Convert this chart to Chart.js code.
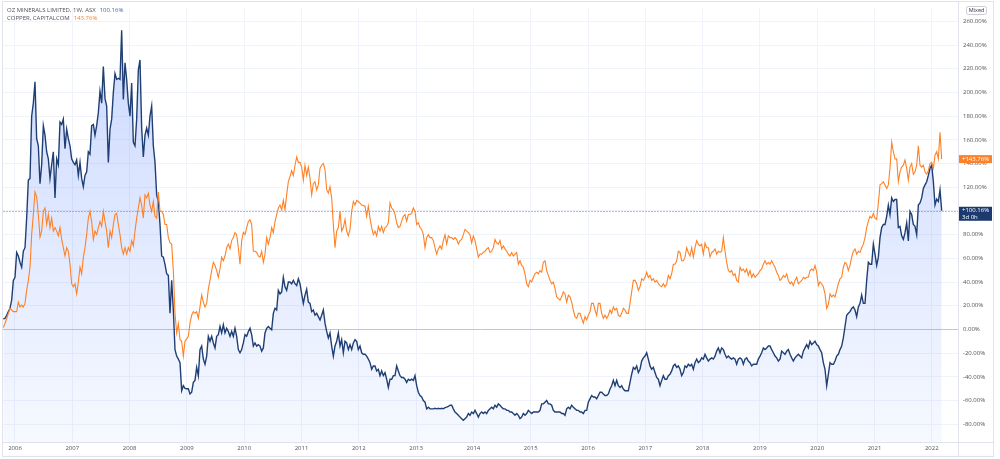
<!DOCTYPE html>
<html><head><meta charset="utf-8">
<script src="https://cdn.jsdelivr.net/npm/chart.js@4/dist/chart.umd.min.js"></script>
<style>html,body{margin:0;padding:0;background:#fff;}canvas{display:block}</style>
</head><body>
<canvas id="c" width="1000" height="459"></canvas>
<script>
// Percent change since start, weekly-ish samples
const ozName = 'OZ MINERALS LIMITED, 1W, ASX';
const cuName = 'COPPER, CAPITALCOM';
const firstDate = 2005.7964;   // decimal year of the first sample
const sampleStep = 0.029087;   // years between samples (~1.5 weeks)

const ozValues = [
 9, 9.4, 12, 15, 17.8, 24.7, 41.4, 44, 65, 62, 56.7, 52.5, 66, 69, 94, 126, 127.5, 180, 191, 209,
 161, 155, 123, 139, 172, 164, 150, 144, 127.5, 139, 150, 111, 144, 139, 175, 173, 177.5, 152.5, 169, 161,
 155, 144, 141, 139, 143, 130, 141, 127.5, 120.5, 130, 133, 150, 148, 172, 173, 164, 172, 183, 201, 191,
 222, 195, 188.6, 141, 169, 177.5, 200, 216, 211, 212, 211, 252.5, 194, 225, 211, 191, 180, 208, 158, 155,
 177.5, 219, 227.5, 170, 145.5, 164, 170, 164, 180, 188.6, 155, 141, 113.6, 108, 88.6, 62, 61, 55, 47, 45.6,
 13.6, 41.4, 16.4, -17, -22.5, -25, -28, -51.7, -47.5,
 -49.7, -50, -50, -54.4, -53, -44.7, -43, -32, -39, -17, -14, -25, -29.4, -22.5, -5.8, -10, -5.8, -11.4, -15.6, -5.8,
 -4.4, 2.5, -3, 3.9, -3, 1, -1.7, -5.8, -1.7, -5.8, 1, -5.8, -17, -19.7, -17, -11.4, -4.4, -5.8, -1.7, 1,
 -4.4, -14, -11.4, -14, -12.8, -14, -18.3, -15.6, -3, 1, 2.5, 1, -0.3, 13.6, 17.8, 16.4, 33, 30, 31.7, 44,
 36, 33, 40, 40, 38.6, 41.4, 38.6, 37, 42.8, 38.6, 30, 22, 29, 34, 23, 22, 15, 16.4, 12, 13.6,
 10.8, 8, 12, 16.4, 5.3, -1.7, -7.2, -3, -14, -22.5, -14, -10, -3, -14, -8.6, -19.7, -10, -11.4, -17, -12.8,
 -17, -11.4, -8.6, -10, -17, -14, -19.7, -21, -21, -22.5, -25, -28, -33.6, -30.8,
 -30.8, -35, -33.6, -39, -35, -39, -36.4, -42, -49, -42, -42, -39, -39, -30.8, -35, -39, -40.5, -40.5, -42, -44.7,
 -42, -43, -42, -43, -39, -47.5, -53, -55.8, -57, -60, -61.4, -67, -65.6, -67, -67, -67, -66.5, -67, -66.5, -67,
 -66.5, -67, -66, -65.6, -65, -64, -64, -67, -69.7, -71, -72.5, -74, -75.3, -76.7, -75.3, -74, -71, -72.5, -69.7, -71,
 -68.3, -71, -74, -71, -69.7, -71, -69.7, -71, -68.3, -67, -65.6, -67, -64, -65.6, -62.8, -64, -65.6, -67, -67, -68.3,
 -68.3, -69.7, -69.7, -71, -72.5, -71, -72.5, -75.3, -74, -71, -72.5, -71, -68.3, -69.7, -71, -69.7, -69.7, -69.7, -69.7, -68.3,
 -62.8, -62.8, -61.4, -60, -62.8, -62.8, -64, -68.3, -69.7, -69.7, -69.7, -69.7, -71, -71,
 -72.5, -67, -65.6, -67, -64, -65.6, -67, -68.3, -68.3, -69.7, -69.7, -71, -68.3, -68.3, -61.4, -58.6, -55.8, -57, -57, -58.6,
 -55.8, -53, -53, -54.4, -55.8, -55.8, -54.4, -50.3, -47.5, -43, -47.5, -43, -47.5, -49, -47.5, -50.3, -51.7, -51.7, -51.7, -44.7,
 -37.8, -32, -33.6, -30.8, -36.4, -33.6, -26.7, -24, -22.5, -19.7, -25, -30.8, -33.6, -32, -36.4, -40.5, -42, -47.5, -43, -39,
 -42, -42, -39, -37.8, -35, -30.8, -29.4, -32, -30.8, -33.6, -39, -36.4, -30.8, -32, -29.4, -30.8, -29.4, -33.6, -28, -25,
 -28, -26.7, -24, -25, -21, -24, -26.7, -25, -24, -25, -22.5, -18.3, -15.6, -19.7, -15.6, -17, -21, -24, -22.5, -24,
 -25, -24, -25, -29.4, -25, -24, -25, -29.4, -25, -24, -26.7, -28, -30.8, -29.4,
 -29.4, -29.4, -25, -22.5, -19.7, -15.6, -17, -15.6, -14, -14, -17, -19.7, -22.5, -24, -26.7, -25, -18.3, -19.7, -21, -18.3,
 -17, -21, -24, -26.7, -24, -22.5, -21, -22.5, -24, -18.3, -15.6, -12.8, -15.6, -10, -12.8, -11.4, -10, -12.8, -14, -17,
 -19.7, -28, -33.6, -47.5, -38, -28, -29.4, -29.4, -26.7, -22.5, -21, -17, -14, -7.2, 2.5, 12, 13.6, 15, 17.8, 19,
 16.4, 10.8, 19, 22, 29, 22, 22, 41.4, 56.7, 55, 55, 72, 63.6, 54, 61, 77.5, 86, 88.6, 88.6, 95.5,
 105, 97, 111, 108, 109.7, 109.7, 86, 87, 79, 76, 81.7, 90, 74.7, 99.7, 97, 88.6, 87, 80, 105, 106.7,
 111, 119, 122, 124.7, 130, 136, 138.6, 125, 105, 110, 108, 117.8, 100.16
];

const cuValues = [
 1.5, 5, 9, 13.6, 17.8, 16.4, 15, 15, 15, 23, 19, 20.6, 19, 22, 33, 41.4, 52.5, 80, 97, 116,
 112, 97, 78, 83, 99.7, 102.5, 88.6, 97, 86, 94, 83, 86, 83, 79, 86, 76, 69, 62, 69, 66,
 55, 38.6, 36, 38.6, 30, 40, 52.5, 47, 61, 69, 80, 94, 99.7, 91, 76, 83, 80, 86, 91, 87,
 99.7, 91, 83, 69, 83, 77.5, 88.6, 97, 98, 88.6, 80, 69, 63.6, 69, 63.6, 69, 66, 75, 70.5, 83,
 94, 102.5, 111, 105, 94, 113.6, 111, 115, 105, 99.7, 108, 95.5, 94, 116, 99.7, 99.7, 97, 88.6, 88.6, 77.5,
 73, 72, 49.7, 13.6, -3, 5, -8.6, -10, -22.5,
 -10, -8, -5.8, 5.3, 12, 15, 13.6, 15, 9.4, 19, 29, 23, 19, 22, 34, 41.4, 49.7, 56.7, 54, 49.7,
 44, 51, 61, 58, 62, 69, 72, 68, 75, 77.5, 81.7, 80, 69, 55, 75, 82, 80, 86, 91, 92.5,
 88.6, 66, 66, 65, 62, 61, 66, 56.7, 63.6, 77.5, 72, 77.5, 86, 81.7, 91, 97, 102.5, 105, 101, 109,
 101, 113.6, 124.7, 129, 134, 130, 138.6, 145.5, 141, 141, 137, 126, 138.6, 130, 137, 127.5, 113.6, 123, 124.7, 117.8,
 122, 136, 138.6, 140, 135, 118, 115, 120.5, 111, 88.6, 69, 83, 86, 99.7, 83, 86, 92.8, 83, 79, 84.4,
 99.7, 108, 105, 109, 108, 106.7, 105, 104.5, 104, 95.5, 104, 94, 86, 80,
 83, 79, 87, 83, 87, 81.7, 86, 87, 90, 106.7, 102.5, 101, 97, 90, 86, 87, 91.4, 95.5, 97, 91.4,
 97, 97, 98, 102.5, 99.7, 88.6, 90, 86, 84.4, 80, 69, 77.5, 80, 77.5, 77.5, 75, 69, 63.6, 68, 70.5,
 68, 75, 80, 72, 79, 77.5, 77.5, 76, 77.5, 76, 72, 75, 76, 80, 84.4, 83, 81.7, 80, 73, 79,
 75, 68, 61, 63.6, 63.6, 65, 66, 68, 69, 65, 66, 69, 76, 73, 72, 75, 68, 70.5, 68, 66,
 63.6, 62, 65, 62, 63.6, 65, 55, 58, 54, 52.5, 47, 38.6, 36, 41.4, 40, 44, 47, 48.3, 47, 49.7,
 48.3, 56.7, 58, 49.7, 45.6, 41.4, 38.6, 40, 34.4, 27.5, 26, 24.7, 27.5, 31.7,
 30, 23, 29, 27.5, 23, 16.4, 10.8, 9.4, 13.6, 13.6, 9.4, 5.3, 10.8, 8, 12, 15, 22, 22, 16.4, 12,
 22, 22, 13.6, 9.4, 12, 9.4, 12, 16.4, 13.6, 19, 16.4, 17.8, 12, 10.8, 13.6, 17.8, 16.4, 13.6, 13.6, 22,
 31.7, 41.4, 41.4, 38.6, 33, 36, 42.8, 41.4, 44, 48.3, 44, 45.6, 41.4, 42.8, 40, 41.4, 38.6, 37, 36, 38.6,
 36, 38.6, 45.6, 42.8, 47, 55, 55, 58, 66, 65, 58, 58, 61, 69, 65, 62, 69, 61, 69, 75,
 72, 70.5, 72, 63.6, 73, 69, 69, 61, 65, 66, 68, 63.6, 66, 65, 66, 77.5, 66, 56.7, 49.7, 48.3,
 49.7, 45.6, 47, 41.4, 40, 52.5, 49.7, 51, 48.3, 51, 45.6, 49.7, 44, 47,
 44, 45.6, 47, 49.7, 51, 55, 58, 55, 56.7, 55, 58, 55, 52.5, 48.3, 45.6, 41.4, 42.8, 45.6, 44, 47,
 41.4, 38.6, 40, 37, 41.4, 44, 38.6, 40, 41.4, 44, 42.8, 44, 44, 49.7, 51, 49.7, 54, 48.3, 37, 40,
 38.6, 36, 30, 17.8, 21, 30, 27.5, 29, 27.5, 33, 38.6, 42.8, 44, 52.5, 56.7, 55, 49.7, 54, 61, 66,
 68, 63.6, 66, 65, 69, 72, 77.5, 86, 91.4, 95.5, 94, 98, 94, 92.8, 106.7, 122, 123, 124.7, 122, 119,
 122, 136, 158, 150, 144, 144, 124.7, 133, 137, 138.6, 143, 136, 126, 137, 140, 131, 133, 138.6, 155, 138.6,
 137, 138.6, 133, 131, 134, 140, 141, 136, 147, 150, 144, 166.4, 143.76
];

const yearTicks = [2006,2007,2008,2009,2010,2011,2012,2013,2014,2015,2016,2017,2018,2019,2020,2021,2022];
const pctTicks = [-80,-60,-40,-20,0,20,40,60,80,100,120,140,160,180,200,220,240,260];

const n = Math.min(ozValues.length, cuValues.length);
const dates = [];
for (let i = 0; i < n; i++) dates.push(firstDate + i * sampleStep);
const ozData = dates.map((d, i) => ({x: d, y: ozValues[i]}));
const cuData = dates.map((d, i) => ({x: d, y: cuValues[i]}));
const ozLast = ozValues[n - 1];
const cuLast = cuValues[n - 1];

const FONT = '"Open Sans", "Noto Sans", sans-serif';
const NAVY = '#1f3f74';
const ORANGE = '#ff8126';
const FRAME = '#e0e3eb';
const GRID = '#f0f3fa';
const TXT = '#50535e';

const overlay = {
  id: 'overlay',
  beforeDatasetsDraw(chart) {
    const {ctx, chartArea: a, scales: {y}} = chart;
    const yy = Math.round(y.getPixelForValue(ozLast)) + 0.5;
    ctx.save();
    ctx.strokeStyle = 'rgba(90,110,160,0.45)';
    ctx.lineWidth = 1;
    ctx.setLineDash([2, 1]);
    ctx.beginPath(); ctx.moveTo(a.left, yy); ctx.lineTo(a.right, yy); ctx.stroke();
    ctx.restore();
  },
  afterDraw(chart) {
    const {ctx, chartArea: a, scales: {y}} = chart;
    ctx.save();
    // frame and separators
    ctx.strokeStyle = FRAME; ctx.lineWidth = 1;
    ctx.strokeRect(2.5, 1.5, 991, 455);
    ctx.beginPath();
    ctx.moveTo(a.right + 0.5, 1.5); ctx.lineTo(a.right + 0.5, 456.5);
    ctx.moveTo(2.5, a.bottom + 0.5); ctx.lineTo(993.5, a.bottom + 0.5);
    ctx.stroke();

    // legend
    ctx.font = '6px ' + FONT;
    ctx.textBaseline = 'middle';
    ctx.textAlign = 'left';
    ctx.fillStyle = TXT;
    ctx.fillText(ozName, 7, 10);
    let w = ctx.measureText(ozName).width;
    ctx.fillStyle = '#3f68b0';
    ctx.fillText(ozLast.toFixed(2) + '%', 7 + w + 4, 10);
    ctx.fillStyle = TXT;
    ctx.fillText(cuName, 7, 18);
    w = ctx.measureText(cuName).width;
    ctx.fillStyle = ORANGE;
    ctx.fillText(cuLast.toFixed(2) + '%', 7 + w + 4, 18);

    // price labels on the axis
    const bx = a.right + 1, bw = 33;
    const cy = y.getPixelForValue(cuLast);
    ctx.fillStyle = ORANGE;
    ctx.fillRect(bx, cy - 4, bw, 8);
    ctx.fillStyle = '#fff';
    ctx.font = '6px ' + FONT;
    ctx.fillText('+' + cuLast.toFixed(2) + '%', bx + 3, cy);
    const oy = y.getPixelForValue(ozLast);
    ctx.fillStyle = '#1c3a6e';
    ctx.fillRect(bx, oy - 4, bw, 14);
    ctx.fillStyle = '#fff';
    ctx.fillText('+' + ozLast.toFixed(2) + '%', bx + 3, oy);
    ctx.fillText('3d 0h', bx + 3, oy + 6.5);

    // "Mixed" badge
    ctx.fillStyle = '#fff';
    ctx.strokeStyle = '#c9ccd4';
    ctx.beginPath();
    if (ctx.roundRect) ctx.roundRect(966.5, 6.5, 20, 8, 2); else ctx.rect(966.5, 6.5, 20, 8);
    ctx.fill(); ctx.stroke();
    ctx.fillStyle = '#333';
    ctx.font = '5.5px ' + FONT;
    ctx.textAlign = 'center';
    ctx.fillText('Mixed', 976.5, 10.7);
    ctx.restore();
  }
};

new Chart(document.getElementById('c'), {
  type: 'line',
  data: {
    datasets: [
      {
        label: ozName,
        data: ozData,
        borderColor: NAVY,
        borderWidth: 1.4,
        pointRadius: 0,
        tension: 0,
        fill: 'start',
        backgroundColor: (ctx) => {
          const ch = ctx.chart, a = ch.chartArea;
          if (!a) return 'rgba(41,98,255,0.12)';
          const g = ch.ctx.createLinearGradient(0, a.top, 0, a.bottom);
          g.addColorStop(0, 'rgba(41,98,255,0.25)');
          g.addColorStop(1, 'rgba(41,98,255,0.04)');
          return g;
        },
        order: 2
      },
      {
        label: cuName,
        data: cuData,
        borderColor: ORANGE,
        borderWidth: 1.1,
        pointRadius: 0,
        tension: 0,
        fill: false,
        order: 1
      }
    ]
  },
  options: {
    responsive: false,
    animation: false,
    devicePixelRatio: 1,
    layout: {padding: {left: 3, top: 3, right: 6, bottom: 3}},
    plugins: {legend: {display: false}, tooltip: {enabled: false}},
    scales: {
      x: {
        type: 'linear',
        min: 2005.7906,
        max: 2022.4572,
        afterBuildTicks: (s) => { s.ticks = yearTicks.map(v => ({value: v})); },
        afterFit: (s) => { s.height = 14; },
        ticks: {
          autoSkip: false, maxRotation: 0, padding: 3,
          color: TXT, font: {family: FONT, size: 6},
          callback: (v) => String(v)
        },
        grid: {color: GRID, drawTicks: false},
        border: {display: false}
      },
      y: {
        type: 'linear',
        position: 'right',
        min: -95,
        max: 270.8,
        afterBuildTicks: (s) => { s.ticks = pctTicks.map(v => ({value: v})); },
        afterFit: (s) => { s.width = 36; },
        ticks: {
          padding: 5,
          color: TXT, font: {family: FONT, size: 6},
          callback: (v) => v.toFixed(2) + '%'
        },
        grid: {
          drawTicks: false,
          color: (c) => (c.tick && c.tick.value === 0) ? '#c4c7cf' : GRID
        },
        border: {display: false}
      }
    }
  },
  plugins: [overlay]
});
</script>
</body></html>
